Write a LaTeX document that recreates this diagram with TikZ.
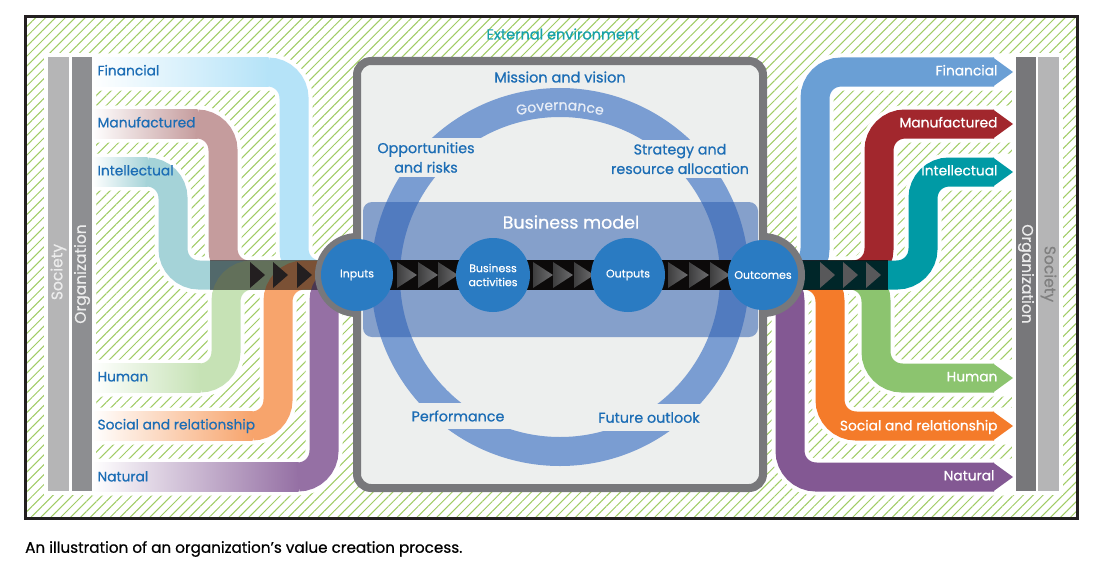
\documentclass[tikz,border=0pt]{standalone}
\usepackage{fontspec}
\setmainfont{Poppins}[UprightFeatures={FakeBold=0.7}]
\usetikzlibrary{positioning}
\usetikzlibrary{patterns.meta}
\usetikzlibrary{decorations.text}
\definecolor{FRAME}{HTML}{231F20}
\definecolor{HATCH}{HTML}{A0CC64}
\definecolor{BAR_LIGHT}{HTML}{B5B5B6}
\definecolor{BAR_DARK}{HTML}{8D8E91}
\definecolor{BAR_DARK_R}{HTML}{77777A}
\definecolor{BOX_LINE}{HTML}{78787B}
\definecolor{BOX_FILL}{HTML}{EDEFEE}
\definecolor{RING}{HTML}{7A9DD2}
\definecolor{BM_BLUE}{HTML}{3060B0}
\definecolor{CIRC}{HTML}{2A7BC2}
\definecolor{LABEL}{HTML}{1C6DB5}
\definecolor{EXT}{HTML}{17A2A9}
\definecolor{GOV}{HTML}{E6ECF6}
\definecolor{BAND}{HTML}{0C0A0A}
\definecolor{TRI_D}{HTML}{3E3E3F}
\definecolor{TRI_L}{HTML}{6E6E70}
% capitals going in
\definecolor{FIN_L}{HTML}{B5E3F8}
\definecolor{MAN_L}{HTML}{C59C9D}
\definecolor{INT_L}{HTML}{A5D3D8}
\definecolor{HUM_L}{HTML}{C6E2B5}
\definecolor{SOC_L}{HTML}{F7A46C}
\definecolor{NAT_L}{HTML}{9570A4}
% capitals coming out
\definecolor{FIN_R}{HTML}{6A9FD5}
\definecolor{MAN_R}{HTML}{A2272D}
\definecolor{INT_R}{HTML}{009AA5}
\definecolor{HUM_R}{HTML}{8CC46F}
\definecolor{SOC_R}{HTML}{F47B2A}
\definecolor{NAT_R}{HTML}{835893}
\tikzset{
	every node/.style = {font=\fontsize{13.8}{16}\selectfont},
	ribbon/.style = {line width=29pt, rounded corners=26pt},
	halo/.style = {white, line width=37pt, rounded corners=26pt},
	bubble/.style = {circle, fill=CIRC, text=white, minimum size=72pt, inner sep=0pt, align=center, font=\fontsize{11}{14}\selectfont},
	capbox/.style = {fill=BOX_FILL, text=LABEL, align=center, inner xsep=4pt, inner ysep=4pt, font=\fontsize{14.3}{19.5}\selectfont},
	leftlbl/.style = {anchor=west, text=LABEL, text height=1.5ex, text depth=.25ex},
	rightlbl/.style = {anchor=east, text=white, text height=1.5ex, text depth=.25ex},
	barlbl/.style = {font=\fontsize{15.5}{16}\selectfont}
}
\begin{document}
\begin{tikzpicture}[x=1pt, y=-1pt]
		\useasboundingbox (0,0) rectangle (1094,578);
		% external environment
		\fill[white] (25,17) rectangle (1077,518);
		\fill[pattern={Lines[angle=45, distance=7pt, line width=1pt]}, pattern color=HATCH] (26,18) rectangle (1076,517);
		\draw[FRAME, line width=3pt] (25,17) rectangle (1077,518);
		\node[text=EXT, font=\fontsize{14.5}{16}\selectfont] (extenv) at (563,34) {External environment};
		
		% society and organization
		\fill[white] (44,53) rectangle (96,495);
		\fill[white] (1012,53) rectangle (1063,495);
		\fill[BAR_LIGHT] (48,57) rectangle (69,491);
		\fill[BAR_DARK] (72,57) rectangle (92,491);
		\fill[BAR_DARK_R] (1016,57) rectangle (1036,491);
		\fill[BAR_LIGHT] (1038,57) rectangle (1059,491);
		\node[barlbl, rotate=90, text=white!85!gray] (soc-l) at (58.5,272) {Society};
		\node[barlbl, rotate=90, text=white!85!gray] (org-l) at (82,274) {Organization};
		\node[barlbl, rotate=-90, text=white!85!gray] (org-r) at (1026,274) {Organization};
		\node[barlbl, rotate=-90, text=gray] (soc-r) at (1048.5,274) {Society};
		
		% white margins round the ribbons
		\foreach \y/\xv in {72/294, 124/223, 172/173, 378/226, 426/278, 477/324}
			\draw[halo] (92,\y) -- (\xv,\y) -- (\xv,275) -- (345,275);
		\foreach \y/\xv in {72/815, 124/879, 172/923, 378/876, 426/830, 477/790}
			\draw[halo] (760,275) -- (\xv,275) -- (\xv,\y) -- (1013,\y);
		
		% ribbons in
		\foreach \y/\xv/\c in {72/294/FIN_L, 124/223/MAN_L, 172/173/INT_L, 378/226/HUM_L, 426/278/SOC_L, 477/324/NAT_L}{
			\shade[left color=white, right color=\c] (92,\y-14.5) rectangle (\xv-25.5,\y+14.5);
			\draw[ribbon, draw=\c] (\xv-26,\y) -- (\xv,\y) -- (\xv,275) -- (345,275);
		}
		
		% ribbons out
		\foreach \y/\xv/\c in {477/790/NAT_R, 426/830/SOC_R, 378/876/HUM_R, 72/815/FIN_R, 124/879/MAN_R, 172/923/INT_R}{
			\draw[ribbon, draw=\c] (760,275) -- (\xv,275) -- (\xv,\y) -- (994,\y);
			\fill[\c] (993,\y-14.5) -- (1013,\y) -- (993,\y+14.5) -- cycle;
		}
		
		% centres of the circles
		\coordinate (c-in) at (357,275);
		\coordinate (c-act) at (493,275);
		\coordinate (c-outp) at (628,275);
		\coordinate (c-out) at (763,275);
		\coordinate (c-lft) at (210,275);
		\coordinate (c-rgt) at (888,275);
		\coordinate (c-ring) at (560,277);
		
		% dark flow on both sides
		\draw[black, opacity=.5, line width=30pt] (c-lft) -- (c-in);
		\draw[black, opacity=.75, line width=30pt] (c-out) -- (c-rgt);
		\foreach \x in {250,273,297}
			\fill[FRAME] (\x,262) -- (\x+15,275) -- (\x,288) -- cycle;
		\foreach \x in {820,843,866}
			\fill[TRI_L!80!black] (\x,262) -- (\x+15,275) -- (\x,288) -- cycle;
		
		% the organization
		\fill[BOX_LINE] (c-in) circle[radius=42];
		\fill[BOX_LINE] (c-out) circle[radius=42];
		\draw[BOX_LINE, line width=8pt, fill=BOX_FILL, rounded corners=14pt] (357,61) rectangle (763,488);
		
		% governance
		\draw[RING, line width=29pt] (c-ring) circle[radius=174.5];
		\path[decorate, decoration={text along path, text align=center, text={|\color{GOV}\fontsize{14}{16}\selectfont|Governance}}] (c-ring) ++(205:167) arc[start angle=205, end angle=335, radius=167];
		\node[text=LABEL, font=\fontsize{14.5}{16}\selectfont] (mission) at (560,77) {Mission and vision};
		\node[capbox, minimum width=118pt] (opport) at (426,157.5) {Opportunities\\and risks};
		\node[capbox] (strategy) at (680,159) {Strategy and\\resource allocation};
		\node[capbox, minimum width=106pt, minimum height=26pt] (perf) at (458,416) {Performance};
		\node[capbox, minimum height=27pt] (future) at (649,417.5) {Future outlook};
		
		% business model
		\fill[BM_BLUE, fill opacity=.55, rounded corners=9pt] (363,202) rectangle (758,337);
		\node[text=white, font=\fontsize{17.5}{20}\selectfont] (bmodel) at (571,222) {Business model};
		\draw[BAND, line width=30pt] (c-in) -- (c-out);
		\foreach \x in {397,418,438,533,553,574,668,689,710}
			\shade[left color=TRI_D, right color=TRI_L] (\x,262) -- (\x+20,275) -- (\x,288) -- cycle;
		\node[bubble] (inputs) at (c-in) {Inputs};
		\node[bubble, minimum size=74pt] (activities) at (c-act) {Business\\activities};
		\node[bubble, minimum size=74pt] (outputs) at (c-outp) {Outputs};
		\node[bubble, minimum size=70pt] (outcomes) at (c-out) {Outcomes};
		
		% labels of the capitals
		\node[leftlbl] (fin-l) at (94,72) {Financial};
		\node[leftlbl] (man-l) at (94,124) {Manufactured};
		\node[leftlbl] (int-l) at (94,172) {Intellectual};
		\node[leftlbl] (hum-l) at (94,378) {Human};
		\node[leftlbl] (soc-rel-l) at (94,426) {Social and relationship};
		\node[leftlbl] (nat-l) at (94,478) {Natural};
		\node[rightlbl] (fin-r) at (1001,72) {Financial};
		\node[rightlbl] (man-r) at (1001,124) {Manufactured};
		\node[rightlbl] (int-r) at (1001,172) {Intellectual};
		\node[rightlbl] (hum-r) at (1001,378) {Human};
		\node[rightlbl] (soc-rel-r) at (1001,427) {Social and relationship};
		\node[rightlbl] (nat-r) at (998,477) {Natural};
		
		% caption
		\node[anchor=west, inner sep=0pt, font=\fontsize{15.2}{17}\selectfont] (caption) at (25,549) {An illustration of an organization’s value creation process.};
	\end{tikzpicture}
\end{document}
